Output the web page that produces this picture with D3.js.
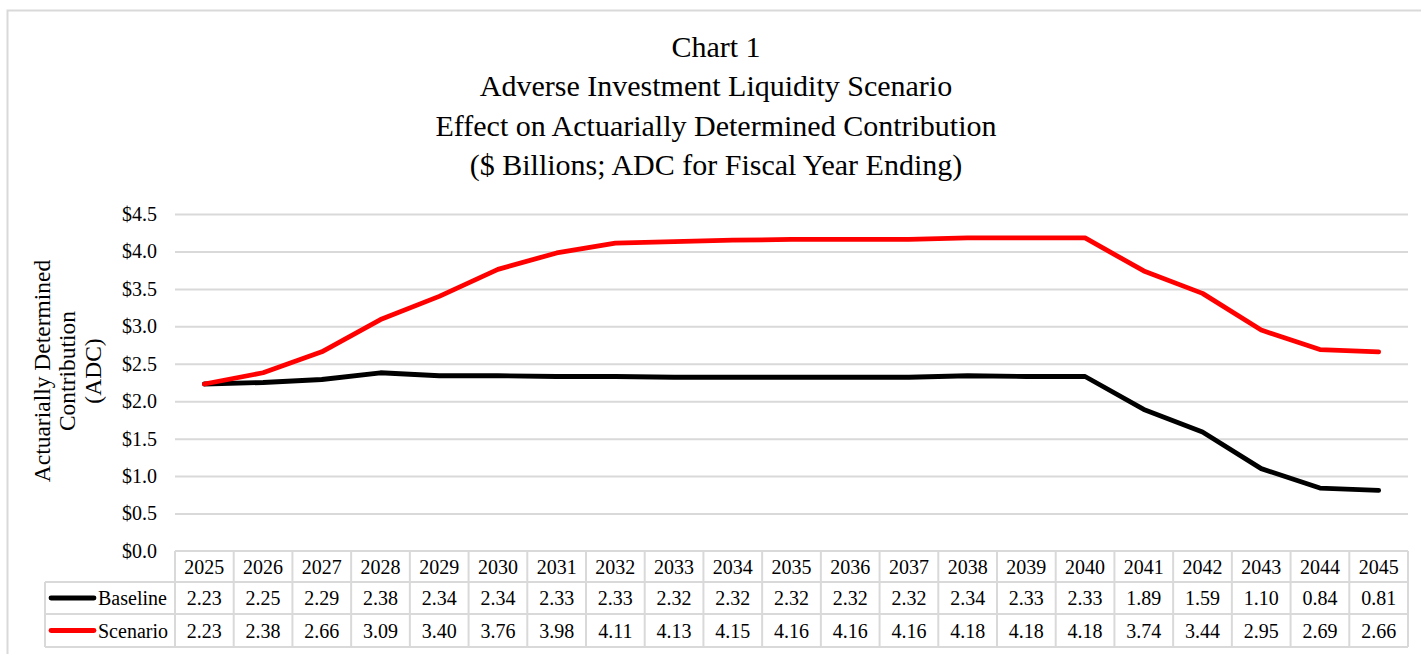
<!DOCTYPE html>
<html><head><meta charset="utf-8">
<script src="https://cdn.jsdelivr.net/npm/d3@7"></script>
<style>
html,body{margin:0;padding:0;background:#fff;}
svg{display:block;}
</style></head>
<body><svg id="c" width="1421" height="654"></svg>
<script>
const years = ["2025","2026","2027","2028","2029","2030","2031","2032","2033","2034","2035","2036","2037","2038","2039","2040","2041","2042","2043","2044","2045"];
const baseline = [2.23,2.25,2.29,2.38,2.34,2.34,2.33,2.33,2.32,2.32,2.32,2.32,2.32,2.34,2.33,2.33,1.89,1.59,1.10,0.84,0.81];
const scenario = [2.23,2.38,2.66,3.09,3.40,3.76,3.98,4.11,4.13,4.15,4.16,4.16,4.16,4.18,4.18,4.18,3.74,3.44,2.95,2.69,2.66];
const seriesNames = ["Baseline","Scenario"];
const seriesColors = ["#000000","#ff0000"];
const yTicks = [0,0.5,1,1.5,2,2.5,3,3.5,4,4.5];
const titleLines = ["Chart 1","Adverse Investment Liquidity Scenario","Effect on Actuarially Determined Contribution","($ Billions; ADC for Fiscal Year Ending)"];
const yTitleLines = ["Actuarially Determined","Contribution","(ADC)"];

const FF = "'Liberation Serif', 'Times New Roman', 'DejaVu Serif', serif";
const svg = d3.select("#c").style("font-family", FF);
const grid = "#d9d9d9";
svg.append("rect").attr("x",7.5).attr("y",10.5).attr("width",1430).attr("height",700)
  .attr("fill","none").attr("stroke",grid).attr("stroke-width",2);

const L = 175, R = 1408, T = 214, B = 551;
const x = d3.scaleBand().domain(years).range([L,R]).padding(0);
const y = d3.scaleLinear().domain([0,4.5]).range([B,T]);

function txt(sel){ return sel.style("font-family", FF).attr("fill","#000"); }

// title
txt(svg.append("g").selectAll("text").data(titleLines).join("text"))
  .attr("x",716).attr("y",(d,i)=>56.5+i*39.5).attr("text-anchor","middle")
  .attr("font-size",30).text(d=>d);

// y axis title
txt(svg.append("g").attr("transform","translate(0,371) rotate(-90)")
  .selectAll("text").data(yTitleLines).join("text"))
  .attr("x",0).attr("y",(d,i)=>49.5+i*25.5).attr("text-anchor","middle")
  .attr("font-size",23.5).text(d=>d);

// gridlines + tick labels
const yAxis = d3.axisLeft(y).tickValues(yTicks).tickSize(-(R-L)).tickPadding(18)
  .tickFormat(d=>"$"+d3.format(".1f")(d));
const ga = svg.append("g").attr("transform",`translate(${L},0)`).call(yAxis);
ga.attr("font-family", null).attr("font-size", null);
ga.select(".domain").remove();
ga.selectAll(".tick line").attr("stroke",grid).attr("stroke-width",2)
  .filter(d=>d===0).remove();
txt(ga.selectAll(".tick text")).attr("font-size",20).attr("dy","0.32em").attr("x",-18);

// lines
const line = d3.line().x((d,i)=>x(years[i])+x.bandwidth()/2).y(d=>y(d));
[baseline,scenario].forEach((s,k)=>{
  svg.append("path").datum(s).attr("d",line).attr("fill","none")
    .attr("stroke",seriesColors[k]).attr("stroke-width",4.8)
    .attr("stroke-linejoin","round").attr("stroke-linecap","round");
});

// data table
const rowY = [551,582,614,647];
const tg = svg.append("g");
years.forEach((yr,i)=>{
  const xc = x(yr)+x.bandwidth()/2;
  txt(tg.append("text")).attr("x",xc).attr("y",(rowY[0]+rowY[1])/2+7)
    .attr("text-anchor","middle").attr("font-size",20).text(yr);
  [baseline,scenario].forEach((s,k)=>{
    txt(tg.append("text")).attr("x",xc).attr("y",(rowY[k+1]+rowY[k+2])/2+7)
      .attr("text-anchor","middle").attr("font-size",20).text(d3.format(".2f")(s[i]));
  });
});
tg.append("line").attr("x1",L).attr("x2",R).attr("y1",rowY[0]).attr("y2",rowY[0]).attr("stroke",grid).attr("stroke-width",2);
[1,2,3].forEach(r=>{
  tg.append("line").attr("x1",45).attr("x2",R).attr("y1",rowY[r]).attr("y2",rowY[r]).attr("stroke",grid).attr("stroke-width",2);
});
d3.range(years.length+1).forEach(i=>{
  const xx = L + i*x.bandwidth();
  tg.append("line").attr("x1",xx).attr("x2",xx).attr("y1",rowY[0]).attr("y2",rowY[3]).attr("stroke",grid).attr("stroke-width",2);
});
tg.append("line").attr("x1",45).attr("x2",45).attr("y1",rowY[1]).attr("y2",rowY[3]).attr("stroke",grid).attr("stroke-width",2);
seriesNames.forEach((n,k)=>{
  const cy = (rowY[k+1]+rowY[k+2])/2;
  tg.append("line").attr("x1",51).attr("x2",94).attr("y1",cy).attr("y2",cy)
    .attr("stroke",seriesColors[k]).attr("stroke-width",4.8).attr("stroke-linecap","round");
  txt(tg.append("text")).attr("x",98).attr("y",cy+7).attr("font-size",20).text(n);
});
</script></body></html>
